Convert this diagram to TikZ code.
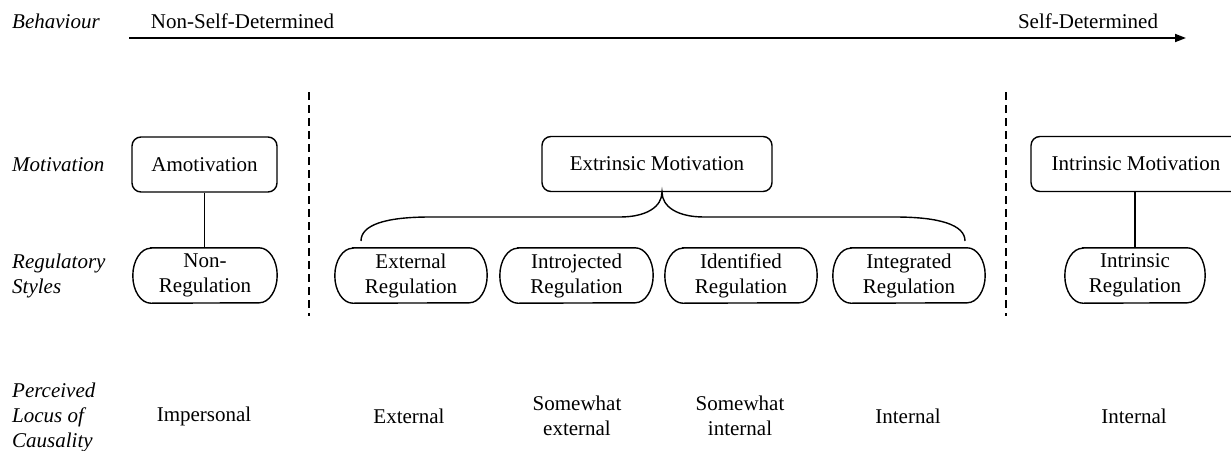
\documentclass[tikz,border=0pt]{standalone}
\usepackage{fontspec}
\setmainfont{Liberation Serif}
\usetikzlibrary{arrows.meta,calc}
\newcommand\regshape[1]{\draw[conn] ([xshift=18pt]#1.north west) -- ([xshift=-18pt]#1.north east) arc[start angle=90,end angle=-90,x radius=18pt,y radius=27.5pt] -- ([xshift=18pt]#1.south west) arc[start angle=270,end angle=90,x radius=18pt,y radius=27.5pt] -- cycle;}
\begin{document}
\begin{tikzpicture}[x=1pt,y=-1pt,
  every node/.style={font=\fontsize{21}{25}\selectfont, inner sep=0pt},
  lbl/.style={anchor=west, align=left, font=\fontsize{21}{25}\selectfont\itshape},
  motbox/.style={draw, line width=1.4pt, rounded corners=9pt, minimum height=55pt},
  regtext/.style={align=center, minimum height=55pt},
  txt/.style={align=center},
  conn/.style={line width=1.4pt},
  sep/.style={line width=1.6pt, dash pattern=on 8pt off 5pt}]
\useasboundingbox (0,0) rectangle (1231,450);

% row labels
\node[lbl] (lbeh) at (12,21) {Behaviour};
\node[lbl] (lmot) at (12,165) {Motivation};
\node[lbl] (lreg) at (12,276) {Regulatory\\Styles};
\node[lbl] (lloc) at (12,417) {Perceived\\Locus of\\Causality};

% behaviour axis
\node (nsd) at (242.5,21) {Non-Self-Determined};
\node (sd) at (1088,21) {Self-Determined};
\coordinate (as) at (129,38);
\coordinate (ae) at (1186,38);
\draw[line width=1.8pt, -{Triangle[length=11pt,width=8pt]}] (as) -- (ae);

% separators
\coordinate (d1t) at (309,92);
\coordinate (d1b) at (309,316);
\coordinate (d2t) at (1006,92);
\coordinate (d2b) at (1006,316);
\draw[sep] (d1t) -- (d1b);
\draw[sep] (d2t) -- (d2b);

% motivation boxes
\node[motbox, minimum width=145pt] (amot) at (204.5,164.5) {Amotivation};
\node[motbox, minimum width=230pt] (extr) at (657,164) {Extrinsic Motivation};
\node[motbox, minimum width=210pt] (intr) at (1136,164) {Intrinsic Motivation};

% regulatory styles
\node[regtext, minimum width=144pt] (nonreg) at (205,275.5) {Non-\\Regulation};
\regshape{nonreg}
\node[regtext, minimum width=152pt] (extreg) at (411,275.5) {External\\Regulation};
\regshape{extreg}
\node[regtext, minimum width=153pt] (introreg) at (576.5,275.5) {Introjected\\Regulation};
\regshape{introreg}
\node[regtext, minimum width=152pt] (identreg) at (741,275.5) {Identified\\Regulation};
\regshape{identreg}
\node[regtext, minimum width=152pt] (integreg) at (909,275.5) {Integrated\\Regulation};
\regshape{integreg}
\node[regtext, minimum width=140pt] (intrreg) at (1135,275.5) {Intrinsic\\Regulation};
\regshape{intrreg}

% connectors
\draw[conn] (amot.south) -- (amot.south |- nonreg.north);
\draw[conn] (intrreg.north |- intr.south) -- (intrreg.north);

% brace
\coordinate (bl) at (361,241);
\coordinate (br) at (965,241);
\coordinate (cusp) at (662,192);
\draw[conn] (bl) .. controls (361,225) and (385,217) .. (430,217) -- (620,217)
  .. controls (646,217) and (662,207) .. (cusp)
  .. controls (662,207) and (678,217) .. (704,217) -- (895,217)
  .. controls (940,217) and (965,225) .. (br);

% locus of causality
\node[txt] (c1) at (204,416) {Impersonal};
\node[txt] (c2) at (409,416) {External};
\node[txt] (c3) at (577,416) {Somewhat\\external};
\node[txt] (c4) at (740,416) {Somewhat\\internal};
\node[txt] (c5) at (908,416) {Internal};
\node[txt] (c6) at (1134,416) {Internal};
\end{tikzpicture}
\end{document}
